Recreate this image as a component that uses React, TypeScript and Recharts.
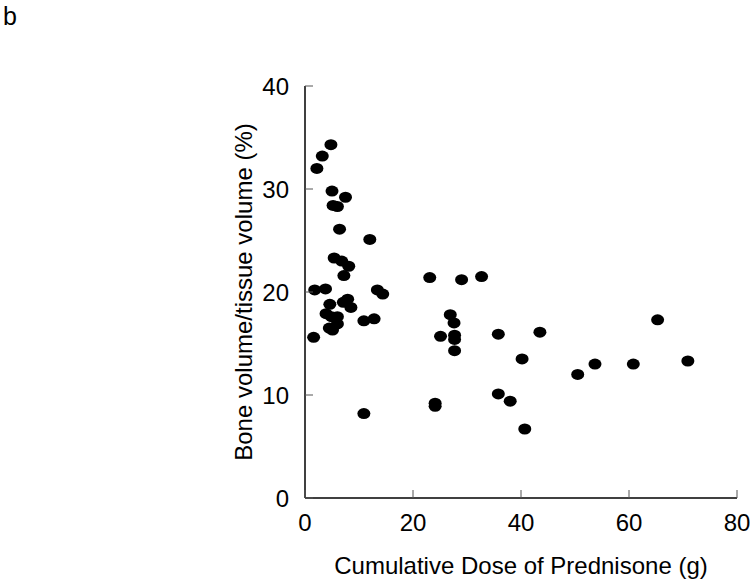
import React from 'react';
import { ScatterChart, Scatter, XAxis, YAxis } from 'recharts';

// cumulative prednisone dose (g) vs bone volume / tissue volume (%)
const doseLow = [4.8, 3.2, 2.2, 5.0, 7.5, 5.2, 6.0, 6.4, 12.0];
const bvLow = [34.3, 33.2, 32.0, 29.8, 29.2, 28.4, 28.3, 26.1, 25.1];

const doseMid = [
  5.4, 6.8, 8.1, 7.2, 1.8, 3.8, 13.4, 14.4, 4.6, 7.9, 7.1,
  8.5, 3.9, 4.9, 6.0, 6.0, 4.5, 5.1, 10.9, 12.8, 1.6,
];
const bvMid = [
  23.3, 23.0, 22.5, 21.6, 20.2, 20.3, 20.2, 19.8, 18.8, 19.3, 19.0,
  18.5, 17.9, 17.6, 17.6, 16.9, 16.5, 16.3, 17.2, 17.4, 15.6,
];

const doseHigh = [
  10.9, 24.1, 24.1, 23.1, 29.0, 32.7, 26.9, 27.6, 25.1, 27.7, 27.7, 27.7,
  35.8, 43.5, 40.2, 35.8, 38.0, 40.7, 50.5, 65.3, 53.7, 60.8, 70.9,
];
const bvHigh = [
  8.2, 9.2, 8.9, 21.4, 21.2, 21.5, 17.8, 17.0, 15.7, 15.8, 15.4, 14.3,
  15.9, 16.1, 13.5, 10.1, 9.4, 6.7, 12.0, 17.3, 13.0, 13.0, 13.3,
];

const xTicks = [0, 20, 40, 60, 80];
const yTicks = [0, 10, 20, 30, 40];

const doses = [...doseLow, ...doseMid, ...doseHigh];
const volumes = [...bvLow, ...bvMid, ...bvHigh];
const points = doses.map((d, i) => ({ dose: d, bv: volumes[i] }));

const FONT = '"Liberation Sans", Arial, sans-serif';
const Y_GAP = 16;
const X_GAP = 16;

const YTick = (props: any) => {
  const { x, y, payload } = props;
  return (
    <g>
      <line x1={x + Y_GAP} x2={x + Y_GAP + 8} y1={y} y2={y} stroke="#555" strokeWidth={1} />
      <text x={x} y={y} dy="0.355em" textAnchor="end" fontSize={24} fontFamily={FONT} fill="#000">
        {payload.value}
      </text>
    </g>
  );
};

const XTick = (props: any) => {
  const { x, y, payload } = props;
  return (
    <g>
      <line x1={x} x2={x} y1={y - X_GAP} y2={y - X_GAP - 8} stroke="#555" strokeWidth={1} />
      <text x={x} y={y} dy="0.71em" textAnchor="middle" fontSize={24} fontFamily={FONT} fill="#000">
        {payload.value}
      </text>
    </g>
  );
};

const Dot = (props: any) => <ellipse cx={props.cx} cy={props.cy} rx={6.5} ry={5.5} fill="#000" />;

export default function App() {
  return (
    <div style={{ position: 'absolute', left: 0, top: 0, width: 750, height: 583, background: '#fff' }}>
      <svg width={40} height={40} style={{ position: 'absolute', left: 0, top: 0 }}>
        <text x={3} y={25} fontSize={25} fontFamily={FONT} fill="#000">b</text>
      </svg>
      <ScatterChart width={750} height={583} margin={{ top: 86, right: 13, bottom: 0, left: 245 }}>
        <XAxis
          type="number"
          dataKey="dose"
          domain={[0, 80]}
          ticks={xTicks}
          tickSize={0}
          tickMargin={X_GAP}
          tick={<XTick />}
          height={85}
          axisLine={{ stroke: '#000', strokeWidth: 1.5 }}
          label={{
            value: 'Cumulative Dose of Prednisone (g)',
            position: 'insideBottom',
            offset: 9,
            fontSize: 24,
            fontFamily: FONT,
            fill: '#000',
          }}
        />
        <YAxis
          type="number"
          dataKey="bv"
          domain={[0, 40]}
          ticks={yTicks}
          tickSize={0}
          tickMargin={Y_GAP}
          tick={<YTick />}
          width={60}
          axisLine={{ stroke: '#000', strokeWidth: 1.5 }}
          label={{
            value: 'Bone volume/tissue volume (%)',
            angle: -90,
            position: 'left',
            offset: 2,
            fontSize: 24,
            fontFamily: FONT,
            fill: '#000',
            style: { textAnchor: 'middle' },
          }}
        />
        <Scatter data={points} shape={<Dot />} isAnimationActive={false} />
      </ScatterChart>
    </div>
  );
}
